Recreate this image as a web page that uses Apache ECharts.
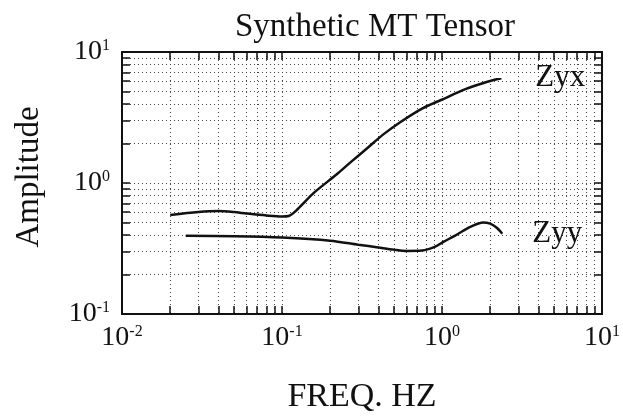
<!DOCTYPE html>
<html>
<head>
<meta charset="utf-8">
<script src="https://cdn.jsdelivr.net/npm/echarts@6/dist/echarts.min.js"></script>
<style>
html,body{margin:0;padding:0;background:#fff;}
#chart{width:623px;height:419px;}
</style>
</head>
<body>
<div id="chart"></div>
<script>
// values: frequency in Hz, amplitude
var zyxFreq = [0.02, 0.03, 0.04, 0.05, 0.06, 0.08, 0.1, 0.11, 0.125, 0.158, 0.217, 0.27, 0.342, 0.43, 0.545, 0.75, 0.986, 1.4, 1.9, 2.35];
var zyxAmp  = [0.57, 0.60, 0.61, 0.60, 0.585, 0.565, 0.555, 0.56, 0.63, 0.84, 1.15, 1.45, 1.85, 2.35, 2.9, 3.7, 4.3, 5.2, 5.9, 6.3];

var zyyFreq = [0.025, 0.05, 0.1, 0.2, 0.3, 0.4, 0.5, 0.6, 0.75, 0.9, 1.02, 1.2, 1.35, 1.55, 1.8, 2.0, 2.2, 2.38];
var zyyAmp  = [0.395, 0.392, 0.383, 0.363, 0.338, 0.322, 0.31, 0.303, 0.305, 0.325, 0.355, 0.395, 0.43, 0.47, 0.50, 0.49, 0.455, 0.41];

// axis decades (exponents of 10) and the minor steps inside each decade
var xExps = [-2, -1, 0, 1];
var yExps = [-1, 0, 1];
var minorSteps = [1, 2, 3, 4, 5, 6, 7, 8, 9];

var serif = "'Liberation Serif', 'DejaVu Serif', serif";

function decadeTicks(exps) {
    var out = [];
    for (var i = 0; i < exps.length - 1; i++) {
        for (var j = 0; j < minorSteps.length; j++) {
            out.push(exps[i] + Math.log10(minorSteps[j]));
        }
    }
    out.push(exps[exps.length - 1]);
    return out;
}

function toLog(fs, as) {
    var d = [];
    for (var i = 0; i < fs.length; i++) {
        d.push([Math.log10(fs[i]), Math.log10(as[i])]);
    }
    return d;
}

function powLabel(v) {
    return '{b|10}{e|' + Math.round(v) + '}';
}

var labelRich = {
    b: { fontFamily: serif, fontSize: 28, color: '#111', lineHeight: 28 },
    e: { fontFamily: serif, fontSize: 16, color: '#111', lineHeight: 16, verticalAlign: 'top' }
};

var xTicks = decadeTicks(xExps);
var yTicks = decadeTicks(yExps);

function axisBase(ticks, exps) {
    return {
        type: 'value',
        min: exps[0],
        max: exps[exps.length - 1],
        interval: 1,
        axisLine: { show: true, onZero: false, lineStyle: { color: '#111', width: 2 } },
        axisTick: { show: true, inside: true, length: 8, customValues: ticks, lineStyle: { color: '#111', width: 1.5 } }
    };
}

var xMain = axisBase(xTicks, xExps);
xMain.position = 'bottom';
xMain.name = 'FREQ. HZ';
xMain.nameLocation = 'middle';
xMain.nameGap = 66;
xMain.nameTextStyle = { fontFamily: serif, fontSize: 34, color: '#111' };
xMain.axisLabel = { customValues: xExps, formatter: powLabel, rich: labelRich, margin: 10 };
xMain.splitLine = { show: true, lineStyle: { type: [1, 3], color: '#444', width: 1 } };

var xTop = axisBase(xTicks, xExps);
xTop.position = 'top';
xTop.axisLabel = { show: false };
xTop.splitLine = { show: false };

var yMain = axisBase(yTicks, yExps);
yMain.position = 'left';
yMain.name = 'Amplitude';
yMain.nameLocation = 'middle';
yMain.nameGap = 76;
yMain.nameTextStyle = { fontFamily: serif, fontSize: 33, color: '#111', padding: [0, 0, 0, 12] };
yMain.axisLabel = { customValues: yExps, formatter: powLabel, rich: labelRich, margin: 12 };
yMain.splitLine = { show: true, lineStyle: { type: [1, 3], color: '#444', width: 1 } };

var yRight = axisBase(yTicks, yExps);
yRight.position = 'right';
yRight.axisLabel = { show: false };
yRight.splitLine = { show: false };

function curve(name, data, dx) {
    return {
        name: name,
        type: 'line',
        data: data,
        smooth: 0.3,
        symbol: 'none',
        lineStyle: { color: '#111', width: 2.5 },
        endLabel: {
            show: true,
            formatter: '{a}',
            offset: [dx, 0],
            fontFamily: serif,
            fontSize: 31,
            color: '#111'
        }
    };
}

var chart = echarts.init(document.getElementById('chart'));
chart.setOption({
    animation: false,
    backgroundColor: '#fff',
    title: {
        text: 'Synthetic MT Tensor',
        left: 230,
        top: 6,
        textStyle: { fontFamily: serif, fontSize: 33, fontWeight: 'normal', color: '#111' }
    },
    grid: { left: 122, right: 17, top: 52, bottom: 93 },
    xAxis: [xMain, xTop],
    yAxis: [yMain, yRight],
    series: [
        curve('Zyx', toLog(zyxFreq, zyxAmp), 26),
        curve('Zyy', toLog(zyyFreq, zyyAmp), 22)
    ]
});
</script>
</body>
</html>
